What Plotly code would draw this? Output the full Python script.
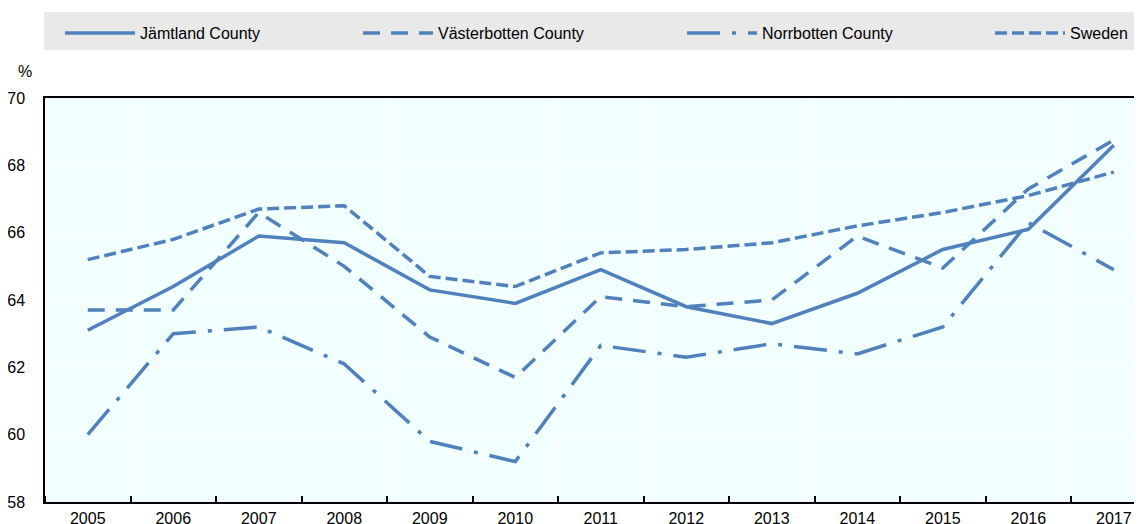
import plotly.graph_objects as go

years = list(range(2005, 2018))
series_names = ["Jämtland County", "Västerbotten County", "Norrbotten County", "Sweden"]
jamtland = [63.1, 64.4, 65.9, 65.7, 64.3, 63.9, 64.9, 63.8, 63.3, 64.2, 65.5, 66.1, 68.6]
vasterbotten = [63.7, 63.7, 66.6, 65.0, 62.9, 61.7, 64.1, 63.8, 64.0, 65.9, 64.95, 67.3, 68.75]
norrbotten = [60.0, 63.0, 63.2, 62.1, 59.8, 59.2, 62.65, 62.3, 62.7, 62.4, 63.2, 66.3, 64.9]
sweden = [65.2, 65.8, 66.7, 66.8, 64.7, 64.4, 65.4, 65.5, 65.7, 66.2, 66.6, 67.1, 67.8]
y_ticks = [58, 60, 62, 64, 66, 68, 70]

values = [jamtland, vasterbotten, norrbotten, sweden]
dashes = ["solid", "17px,11px", "33px,12px,4px,12px", "12px,5px"]
color = "#4F81BD"

# page body has an 8px margin; figure coordinates = screen - 8
OFF = 8
W, H = 1142 - OFF, 524 - OFF
L, R, T, B = 45 - OFF, 0, 98 - OFF, 524 - 502
pw, ph = W - L - R, H - T - B

def px_x(p):  # screen px -> paper
    return (p - OFF - L) / pw

def px_y(p):
    return (H - B - (p - OFF)) / ph

fig = go.Figure()
legend_ids = ["legend", "legend2", "legend3", "legend4"]
for name, vals, dash, lid in zip(series_names, values, dashes, legend_ids):
    fig.add_trace(go.Scatter(x=years, y=vals, mode="lines", name=name,
                             line=dict(color=color, width=3.5, dash=dash),
                             legend=lid))

text_starts = [141, 439, 763, 1071]
layout_legends = {}
for lid, ts in zip(legend_ids, text_starts):
    layout_legends[lid] = dict(x=px_x(ts - 81), y=px_y(33), xanchor="left", yanchor="middle",
                               xref="paper", yref="paper",
                               bgcolor="rgba(0,0,0,0)", itemwidth=70,
                               font=dict(family="Liberation Sans, Arial", size=16, color="black"))

fig.update_layout(
    width=W, height=H,
    margin=dict(l=L, r=R, t=T, b=B, autoexpand=False),
    paper_bgcolor="white",
    plot_bgcolor="#F2FFFF",
    showlegend=True,
    font=dict(family="Liberation Sans, Arial", size=16, color="black"),
    **layout_legends,
)

fig.add_shape(type="rect", xref="paper", yref="paper",
              x0=px_x(44), x1=1.02, y0=px_y(50), y1=px_y(12),
              fillcolor="#E9E9E9", line=dict(width=0), layer="below")

fig.update_xaxes(
    range=[2004.5, 2017.33],
    tickmode="array", tickvals=years, ticktext=[str(y) for y in years],
    ticks="", showgrid=False, zeroline=False,
    showline=True, linecolor="black", linewidth=1.5, mirror=True,
    tickfont=dict(size=16), ticklabelstandoff=1,
    minor=dict(tickmode="array", tickvals=[y - 0.5 for y in years] + [2017.5],
               ticks="inside", ticklen=6, tickwidth=1.5, tickcolor="black",
               showgrid=True, gridcolor="white", gridwidth=1),
)
fig.update_yaxes(
    range=[58, 70], tickmode="array", tickvals=y_ticks,
    showgrid=True, gridcolor="white", gridwidth=1, zeroline=False,
    showline=True, linecolor="black", linewidth=1.5, mirror=False,
    ticks="", ticklabelstandoff=15, tickfont=dict(size=16),
)

fig.add_annotation(text="%", xref="paper", yref="paper", x=px_x(25), y=px_y(72),
                   showarrow=False, xanchor="center", yanchor="middle",
                   font=dict(size=16, color="black"))

fig.write_html("out.html")
